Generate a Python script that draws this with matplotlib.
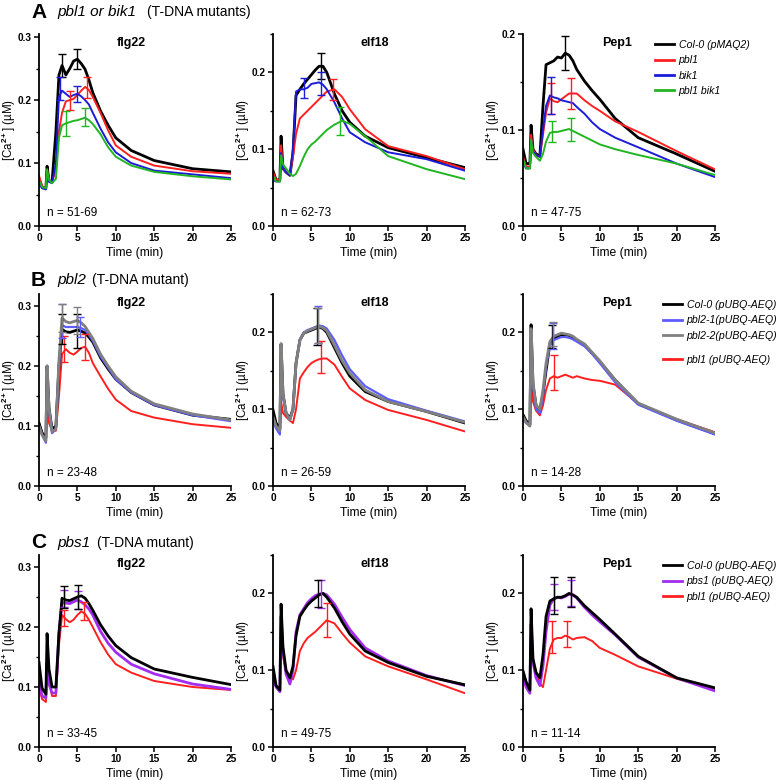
import numpy as np
import matplotlib
matplotlib.use("Agg")
import matplotlib.pyplot as plt
from matplotlib.lines import Line2D

matplotlib.rcParams.update({
    "font.family": ["Liberation Sans", "DejaVu Sans"],
    "font.weight": "bold",
    "mathtext.fontset": "custom",
    "mathtext.rm": "Liberation Sans:bold",
    "mathtext.it": "Liberation Sans:italic:bold",
    "mathtext.bf": "Liberation Sans:bold",
    "axes.linewidth": 1.3,
})

# ─── Data ─────────────────────────────────────────────────────────────────────
# times (min) at which every trace was read
T_GRID = [0, 0.4, 0.9, 1.05, 1.3, 1.7, 2.2, 2.6, 3.0, 3.5, 4.0, 4.5, 5.0, 5.5,
          6.0, 6.5, 7.0, 8.0, 9.0, 10, 12, 15, 20, 25]

# A  pbl1 / bik1  (pMAQ2)
A_FLG22_COL0 = [0.075, 0.062, 0.060, 0.095, 0.072, 0.070, 0.150, 0.240, 0.255, 0.240, 0.250, 0.262,
                0.265, 0.258, 0.249, 0.232, 0.212, 0.183, 0.160, 0.140, 0.120, 0.104, 0.091, 0.086]
A_FLG22_PBL1 = [0.080, 0.063, 0.060, 0.090, 0.072, 0.070, 0.090, 0.150, 0.180, 0.198, 0.200, 0.202,
                0.208, 0.215, 0.221, 0.216, 0.205, 0.180, 0.152, 0.128, 0.110, 0.096, 0.087, 0.083]
A_FLG22_BIK1 = [0.068, 0.060, 0.058, 0.085, 0.070, 0.068, 0.100, 0.205, 0.215, 0.210, 0.205, 0.208,
                0.210, 0.206, 0.200, 0.193, 0.180, 0.155, 0.133, 0.117, 0.100, 0.088, 0.082, 0.076]
A_FLG22_DBL = [0.072, 0.062, 0.060, 0.090, 0.073, 0.068, 0.075, 0.140, 0.160, 0.163, 0.165, 0.167,
               0.168, 0.170, 0.172, 0.168, 0.162, 0.146, 0.125, 0.110, 0.096, 0.086, 0.079, 0.074]

A_ELF18_COL0 = [0.072, 0.060, 0.060, 0.117, 0.075, 0.070, 0.066, 0.095, 0.170, 0.178, 0.185, 0.191,
                0.197, 0.203, 0.208, 0.208, 0.200, 0.172, 0.150, 0.135, 0.117, 0.102, 0.089, 0.076]
A_ELF18_PBL1 = [0.070, 0.060, 0.060, 0.105, 0.075, 0.070, 0.066, 0.090, 0.120, 0.140, 0.145, 0.150,
                0.155, 0.160, 0.165, 0.170, 0.175, 0.178, 0.168, 0.152, 0.126, 0.104, 0.091, 0.074]
A_ELF18_BIK1 = [0.060, 0.058, 0.058, 0.095, 0.075, 0.070, 0.066, 0.100, 0.175, 0.178, 0.178, 0.180,
                0.185, 0.186, 0.187, 0.184, 0.178, 0.161, 0.140, 0.122, 0.109, 0.096, 0.087, 0.072]
A_ELF18_DBL = [0.065, 0.058, 0.058, 0.092, 0.080, 0.075, 0.068, 0.065, 0.068, 0.078, 0.090, 0.100,
               0.106, 0.110, 0.115, 0.120, 0.125, 0.132, 0.137, 0.133, 0.117, 0.091, 0.074, 0.061]

A_PEP1_COL0 = [0.080, 0.065, 0.065, 0.105, 0.080, 0.075, 0.073, 0.125, 0.168, 0.170, 0.172, 0.176,
               0.175, 0.180, 0.178, 0.172, 0.163, 0.151, 0.141, 0.132, 0.112, 0.092, 0.075, 0.057]
A_PEP1_PBL1 = [0.072, 0.062, 0.062, 0.095, 0.080, 0.074, 0.072, 0.095, 0.118, 0.133, 0.130, 0.129,
               0.132, 0.135, 0.138, 0.138, 0.138, 0.131, 0.125, 0.120, 0.109, 0.098, 0.078, 0.059]
A_PEP1_BIK1 = [0.066, 0.060, 0.060, 0.090, 0.078, 0.074, 0.072, 0.100, 0.125, 0.136, 0.134, 0.133,
               0.131, 0.130, 0.129, 0.128, 0.124, 0.117, 0.108, 0.101, 0.092, 0.082, 0.065, 0.051]
A_PEP1_DBL = [0.070, 0.060, 0.060, 0.090, 0.076, 0.072, 0.068, 0.075, 0.088, 0.097, 0.098, 0.098,
              0.099, 0.100, 0.101, 0.099, 0.097, 0.093, 0.089, 0.085, 0.080, 0.074, 0.065, 0.053]

# B  pbl2  (pUBQ-AEQ)
B_FLG22_COL0 = [0.105, 0.088, 0.080, 0.200, 0.130, 0.095, 0.100, 0.200, 0.261, 0.257, 0.256, 0.258,
                0.260, 0.258, 0.255, 0.248, 0.240, 0.214, 0.195, 0.178, 0.156, 0.135, 0.118, 0.111]
B_FLG22_PBL21 = [0.100, 0.085, 0.072, 0.190, 0.125, 0.088, 0.095, 0.200, 0.268, 0.265, 0.265, 0.265,
                 0.265, 0.263, 0.260, 0.252, 0.242, 0.216, 0.197, 0.178, 0.156, 0.135, 0.118, 0.108]
B_FLG22_PBL22 = [0.100, 0.085, 0.075, 0.200, 0.130, 0.090, 0.095, 0.210, 0.280, 0.274, 0.272, 0.274,
                 0.276, 0.272, 0.266, 0.256, 0.246, 0.220, 0.200, 0.182, 0.158, 0.137, 0.120, 0.110]
B_FLG22_PBL1 = [0.105, 0.090, 0.082, 0.130, 0.105, 0.092, 0.092, 0.150, 0.220, 0.228, 0.222, 0.219,
                0.224, 0.230, 0.232, 0.222, 0.205, 0.183, 0.162, 0.144, 0.125, 0.114, 0.103, 0.097]

B_ELF18_COL0 = [0.099, 0.082, 0.075, 0.185, 0.120, 0.095, 0.088, 0.100, 0.160, 0.190, 0.199, 0.201,
                0.203, 0.205, 0.207, 0.205, 0.200, 0.180, 0.160, 0.143, 0.123, 0.110, 0.097, 0.082]
B_ELF18_PBL21 = [0.085, 0.075, 0.067, 0.180, 0.118, 0.095, 0.086, 0.100, 0.160, 0.190, 0.200, 0.203,
                 0.205, 0.207, 0.209, 0.208, 0.205, 0.190, 0.170, 0.152, 0.130, 0.113, 0.098, 0.084]
B_ELF18_PBL22 = [0.090, 0.078, 0.072, 0.185, 0.120, 0.095, 0.086, 0.100, 0.160, 0.190, 0.199, 0.202,
                 0.204, 0.206, 0.208, 0.206, 0.202, 0.183, 0.163, 0.147, 0.125, 0.110, 0.097, 0.083]
B_ELF18_PBL1 = [0.090, 0.080, 0.075, 0.110, 0.095, 0.090, 0.085, 0.082, 0.100, 0.140, 0.148, 0.155,
                0.160, 0.163, 0.165, 0.166, 0.166, 0.158, 0.142, 0.127, 0.112, 0.099, 0.086, 0.071]

B_PEP1_COL0 = [0.093, 0.085, 0.080, 0.210, 0.132, 0.105, 0.099, 0.120, 0.150, 0.185, 0.192, 0.195,
               0.197, 0.197, 0.196, 0.193, 0.190, 0.184, 0.173, 0.162, 0.138, 0.107, 0.086, 0.068]
B_PEP1_PBL21 = [0.088, 0.082, 0.078, 0.200, 0.130, 0.100, 0.095, 0.118, 0.155, 0.183, 0.190, 0.192,
                0.194, 0.194, 0.193, 0.191, 0.188, 0.182, 0.172, 0.160, 0.135, 0.106, 0.085, 0.067]
B_PEP1_PBL22 = [0.090, 0.083, 0.078, 0.205, 0.135, 0.105, 0.100, 0.125, 0.160, 0.188, 0.195, 0.197,
                0.199, 0.198, 0.197, 0.195, 0.191, 0.185, 0.174, 0.163, 0.138, 0.108, 0.087, 0.069]
B_PEP1_PBL1 = [0.088, 0.083, 0.080, 0.150, 0.110, 0.098, 0.092, 0.105, 0.125, 0.140, 0.143, 0.141,
               0.143, 0.145, 0.143, 0.141, 0.143, 0.140, 0.138, 0.137, 0.132, 0.107, 0.087, 0.070]

# C  pbs1  (pUBQ-AEQ)
C_FLG22_COL0 = [0.141, 0.098, 0.088, 0.189, 0.130, 0.100, 0.100, 0.190, 0.248, 0.245, 0.244, 0.247,
                0.250, 0.252, 0.248, 0.239, 0.228, 0.204, 0.185, 0.169, 0.149, 0.130, 0.116, 0.104]
C_FLG22_PBS1 = [0.110, 0.085, 0.082, 0.138, 0.105, 0.090, 0.090, 0.190, 0.241, 0.240, 0.239, 0.242,
                0.245, 0.242, 0.237, 0.230, 0.220, 0.193, 0.173, 0.158, 0.138, 0.122, 0.105, 0.096]
C_FLG22_PBL1 = [0.100, 0.080, 0.075, 0.155, 0.110, 0.085, 0.085, 0.170, 0.220, 0.213, 0.208, 0.212,
                0.220, 0.226, 0.222, 0.212, 0.200, 0.175, 0.154, 0.138, 0.124, 0.110, 0.100, 0.095]

C_ELF18_COL0 = [0.105, 0.080, 0.074, 0.186, 0.130, 0.100, 0.090, 0.105, 0.145, 0.170, 0.178, 0.185,
                0.190, 0.194, 0.198, 0.200, 0.195, 0.181, 0.163, 0.147, 0.125, 0.110, 0.092, 0.081]
C_ELF18_PBS1 = [0.090, 0.078, 0.072, 0.170, 0.125, 0.095, 0.082, 0.100, 0.150, 0.172, 0.180, 0.188,
                0.193, 0.197, 0.199, 0.200, 0.198, 0.186, 0.169, 0.153, 0.129, 0.112, 0.093, 0.080]
C_ELF18_PBL1 = [0.100, 0.080, 0.075, 0.179, 0.120, 0.098, 0.092, 0.088, 0.100, 0.125, 0.135, 0.142,
                0.146, 0.150, 0.155, 0.160, 0.165, 0.161, 0.148, 0.136, 0.118, 0.105, 0.088, 0.070]

C_PEP1_COL0 = [0.099, 0.085, 0.074, 0.180, 0.115, 0.097, 0.090, 0.120, 0.170, 0.190, 0.193, 0.195,
               0.195, 0.197, 0.200, 0.198, 0.195, 0.184, 0.175, 0.166, 0.147, 0.118, 0.090, 0.077]
C_PEP1_PBS1 = [0.090, 0.078, 0.070, 0.160, 0.110, 0.090, 0.080, 0.105, 0.150, 0.185, 0.193, 0.195,
               0.194, 0.196, 0.199, 0.198, 0.194, 0.182, 0.172, 0.163, 0.146, 0.117, 0.090, 0.073]
C_PEP1_PBL1 = [0.100, 0.085, 0.075, 0.155, 0.110, 0.098, 0.083, 0.078, 0.100, 0.128, 0.140, 0.142,
               0.142, 0.145, 0.143, 0.140, 0.142, 0.143, 0.138, 0.129, 0.120, 0.105, 0.089, 0.075]

# error bars: (time, mean, half-width)
A_FLG22_ERR = {"col0": [(3.0, 0.255, 0.018), (5.0, 0.265, 0.016)],
               "pbl1": [(4.0, 0.200, 0.015), (6.2, 0.220, 0.017)],
               "bik1": [(2.7, 0.218, 0.018), (5.0, 0.210, 0.013)],
               "dbl": [(3.5, 0.163, 0.020), (6.0, 0.173, 0.014)]}
A_ELF18_ERR = {"col0": [(6.3, 0.208, 0.017)],
               "pbl1": [(7.8, 0.178, 0.014)],
               "bik1": [(4.1, 0.180, 0.013), (6.2, 0.186, 0.015)],
               "dbl": [(8.7, 0.137, 0.018)]}
A_PEP1_ERR = {"col0": [(5.5, 0.180, 0.018)],
              "pbl1": [(3.7, 0.133, 0.016), (6.3, 0.138, 0.016)],
              "bik1": [(3.6, 0.136, 0.019)],
              "dbl": [(3.8, 0.098, 0.011), (6.2, 0.101, 0.012)]}
B_FLG22_ERR = {"col0": [(3.0, 0.262, 0.025), (5.0, 0.258, 0.028)],
               "pbl21": [(3.0, 0.275, 0.029), (5.4, 0.265, 0.017)],
               "pbl22": [(3.0, 0.280, 0.024), (5.0, 0.276, 0.022)],
               "pbl1": [(3.2, 0.228, 0.022), (6.0, 0.232, 0.022)]}
B_ELF18_ERR = {"col0": [(5.7, 0.208, 0.024)],
               "pbl21": [(5.9, 0.210, 0.024)],
               "pbl22": [(5.8, 0.209, 0.023)],
               "pbl1": [(6.3, 0.168, 0.021)]}
B_PEP1_ERR = {"col0": [(3.8, 0.195, 0.015)],
              "pbl21": [(3.9, 0.195, 0.017)],
              "pbl22": [(3.9, 0.198, 0.016)],
              "pbl1": [(4.1, 0.148, 0.023)]}
C_FLG22_ERR = {"col0": [(3.2, 0.250, 0.018), (5.1, 0.250, 0.020)],
               "pbs1": [(3.2, 0.247, 0.014), (5.1, 0.245, 0.015)],
               "pbl1": [(3.2, 0.215, 0.014), (5.8, 0.226, 0.015)]}
C_ELF18_ERR = {"col0": [(5.9, 0.200, 0.018)],
               "pbs1": [(6.3, 0.199, 0.018)],
               "pbl1": [(7.0, 0.165, 0.022)]}
C_PEP1_ERR = {"col0": [(4.0, 0.197, 0.024), (6.2, 0.202, 0.020)],
              "pbs1": [(4.0, 0.195, 0.017), (6.2, 0.200, 0.017)],
              "pbl1": [(3.8, 0.143, 0.021), (5.7, 0.147, 0.017)]}

N_LABELS = ["n = 51-69", "n = 62-73", "n = 47-75",
            "n = 23-48", "n = 26-59", "n = 14-28",
            "n = 33-45", "n = 49-75", "n = 11-14"]
ELICITORS = ["flg22", "elf18", "Pep1"]
Y_MAX = [0.305, 0.25, 0.20,
         0.32, 0.25, 0.25,
         0.32, 0.25, 0.25]

# ─── Styles ───────────────────────────────────────────────────────────────────
# (key, legend label, colour, line width, legend order)
STYLE_A = [("col0", "Col-0 (pMAQ2)", "#000000", 2.0, 0),
           ("pbl1", "pbl1", "#ff1f1f", 1.4, 1),
           ("bik1", "bik1", "#1c1cd8", 1.4, 2),
           ("dbl", "pbl1 bik1", "#22b522", 1.4, 3)]
STYLE_B = [("pbl1", "pbl1 (pUBQ-AEQ)", "#ff1f1f", 1.4, 3),
           ("col0", "Col-0 (pUBQ-AEQ)", "#000000", 2.0, 0),
           ("pbl21", "pbl2-1(pUBQ-AEQ)", "#5c5cff", 1.6, 1),
           ("pbl22", "pbl2-2(pUBQ-AEQ)", "#808080", 2.0, 2)]
STYLE_C = [("pbl1", "pbl1 (pUBQ-AEQ)", "#ff1f1f", 1.4, 2),
           ("pbs1", "pbs1 (pUBQ-AEQ)", "#a32cf0", 2.0, 1),
           ("col0", "Col-0 (pUBQ-AEQ)", "#000000", 2.0, 0)]

ROWS = [
    (STYLE_A, [{"col0": A_FLG22_COL0, "pbl1": A_FLG22_PBL1, "bik1": A_FLG22_BIK1, "dbl": A_FLG22_DBL},
               {"col0": A_ELF18_COL0, "pbl1": A_ELF18_PBL1, "bik1": A_ELF18_BIK1, "dbl": A_ELF18_DBL},
               {"col0": A_PEP1_COL0, "pbl1": A_PEP1_PBL1, "bik1": A_PEP1_BIK1, "dbl": A_PEP1_DBL}],
     [A_FLG22_ERR, A_ELF18_ERR, A_PEP1_ERR]),
    (STYLE_B, [{"col0": B_FLG22_COL0, "pbl21": B_FLG22_PBL21, "pbl22": B_FLG22_PBL22, "pbl1": B_FLG22_PBL1},
               {"col0": B_ELF18_COL0, "pbl21": B_ELF18_PBL21, "pbl22": B_ELF18_PBL22, "pbl1": B_ELF18_PBL1},
               {"col0": B_PEP1_COL0, "pbl21": B_PEP1_PBL21, "pbl22": B_PEP1_PBL22, "pbl1": B_PEP1_PBL1}],
     [B_FLG22_ERR, B_ELF18_ERR, B_PEP1_ERR]),
    (STYLE_C, [{"col0": C_FLG22_COL0, "pbs1": C_FLG22_PBS1, "pbl1": C_FLG22_PBL1},
               {"col0": C_ELF18_COL0, "pbs1": C_ELF18_PBS1, "pbl1": C_ELF18_PBL1},
               {"col0": C_PEP1_COL0, "pbs1": C_PEP1_PBS1, "pbl1": C_PEP1_PBL1}],
     [C_FLG22_ERR, C_ELF18_ERR, C_PEP1_ERR]),
]

# ─── Layout (pixels) ──────────────────────────────────────────────────────────
W, H = 778, 780
COL_LEFT = [39, 273, 523]
ROW_TOP = [34, 294, 555]
AX_W, AX_H = 192, 192
TITLE_X = [0.48, 0.53, 0.49]

fig = plt.figure(figsize=(W / 100, H / 100), dpi=100)


def px_axes(left, top, w, h):
    return fig.add_axes([left / W, 1 - (top + h) / H, w / W, h / H])


legend_entries = []
for r, (style, panel_data, panel_err) in enumerate(ROWS):
    for c in range(3):
        k = r * 3 + c
        ax = px_axes(COL_LEFT[c], ROW_TOP[r], AX_W, AX_H)
        data = panel_data[c]
        errs = panel_err[c]
        for key, label, color, lw, _ in style:
            ax.plot(T_GRID, data[key], color=color, lw=lw, solid_joinstyle="round", zorder=2)
        for key, label, color, lw, _ in style:
            pts = errs.get(key, [])
            if pts:
                ex, ey, ee = zip(*pts)
                ax.errorbar(ex, ey, yerr=ee, fmt="none", ecolor=color, elinewidth=1.0,
                            capsize=3, capthick=1.0, zorder=3)

        ymax = Y_MAX[k]
        ax.set_xlim(0, 25)
        ax.set_ylim(0, ymax)
        ax.set_xticks(range(0, 26, 5))
        ax.set_yticks(np.arange(0, ymax + 1e-6, 0.1))
        ax.set_yticks(np.arange(0.05, ymax + 1e-6, 0.1), minor=True)
        ax.yaxis.set_major_formatter(matplotlib.ticker.FormatStrFormatter("%.1f"))
        for s in ("top", "right"):
            ax.spines[s].set_visible(False)
        ax.tick_params(which="major", direction="out", length=3.5, width=1.1,
                       labelsize=7.3, pad=1.5)
        ax.tick_params(which="minor", direction="out", length=2.5, width=1.0)
        ax.set_xlabel("Time (min)", fontsize=8.7, labelpad=3)
        ax.set_ylabel("[Ca$^{2+}$] (\u00b5M)", fontsize=8.3)
        ax.yaxis.set_label_coords(-0.108, 0.5)
        ax.text(TITLE_X[c], 0.955, ELICITORS[c], transform=ax.transAxes,
                ha="center", va="center", fontsize=9)
        ax.text(0.04, 0.07, N_LABELS[k], transform=ax.transAxes,
                ha="left", va="center", fontsize=8.5, fontweight="normal")
        if c == 2:
            hs = sorted(style, key=lambda s: s[4])
            legend_entries.append([(Line2D([], [], color=s[2], lw=2.0), s[1]) for s in hs])

leg_kw = dict(loc="upper left", frameon=False, borderpad=0, borderaxespad=0,
              handlelength=1.8, handletextpad=0.45, labelspacing=0.5,
              prop={"style": "italic", "weight": "normal", "size": 7.6},
              bbox_transform=fig.transFigure)


def add_legend(entries, xpx, ypx):
    fig.legend([h for h, _ in entries], [l for _, l in entries],
               bbox_to_anchor=(xpx / W, 1 - ypx / H), **leg_kw)


add_legend(legend_entries[0], 655, 40)
add_legend(legend_entries[1][:3], 663, 300)
add_legend(legend_entries[1][3:], 663, 355)
add_legend(legend_entries[2], 663, 561)

# panel headings
HEADINGS = [("A", "pbl1 or bik1", "(T-DNA mutants)", 12, 147),
            ("B", "pbl2", "(T-DNA mutant)", 280, 92),
            ("C", "pbs1", "(T-DNA mutant)", 543, 97)]
for letter, gene, note, ypx, xnote in HEADINGS:
    fig.text(31 / W, 1 - ypx / H, letter, fontsize=15, fontweight="bold", va="center")
    fig.text(57 / W, 1 - ypx / H, gene, fontsize=11, fontstyle="italic",
             fontweight="normal", va="center")
    fig.text(xnote / W, 1 - ypx / H, note, fontsize=10, fontweight="normal", va="center")

fig.savefig("out.png", dpi=100)
